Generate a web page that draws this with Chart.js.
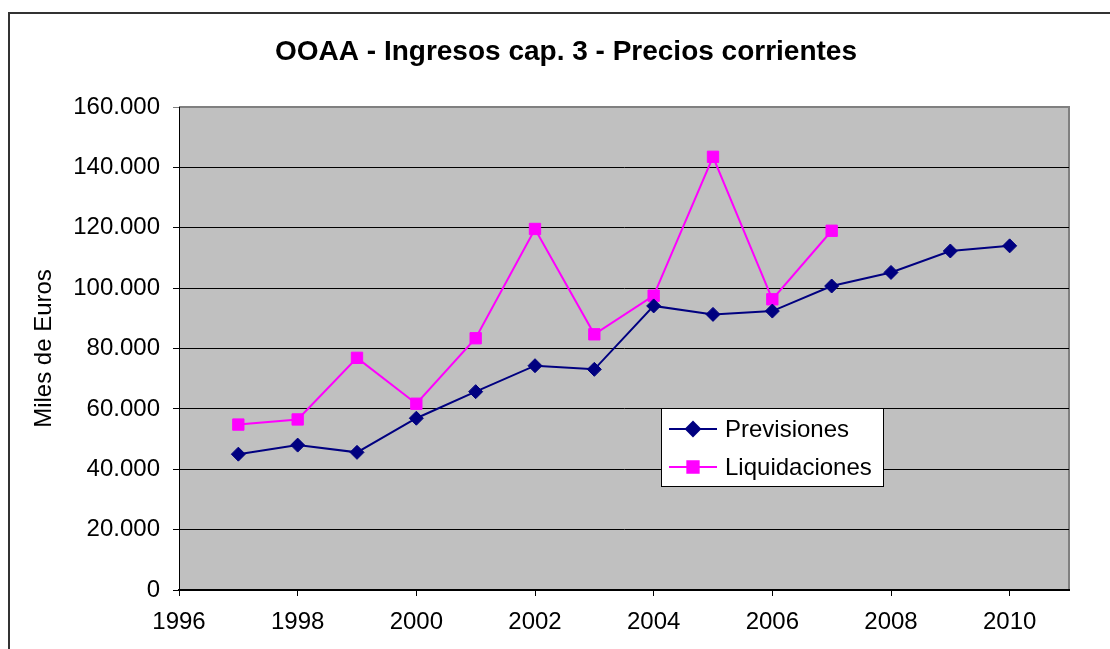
<!DOCTYPE html>
<html>
<head>
<meta charset="utf-8">
<title>OOAA - Ingresos cap. 3 - Precios corrientes</title>
<script src="https://cdn.jsdelivr.net/npm/chart.js@4.4.1/dist/chart.umd.min.js"></script>
<style>
  html, body { margin: 0; padding: 0; background: #fff; }
  canvas { display: block; }
</style>
</head>
<body>
<canvas id="ingresos-chart" width="1110" height="649"></canvas>
<script>
// Data (miles de euros)
const years = [1997, 1998, 1999, 2000, 2001, 2002, 2003, 2004, 2005, 2006, 2007, 2008, 2009, 2010];
const previsiones = [45000, 48000, 45600, 56900, 65700, 74300, 73100, 94100, 91300, 92400, 100700, 105200, 112300, 114000];
const liquidaciones = [54800, 56500, 76900, 61700, 83400, 119600, 84700, 97500, 143500, 96300, 119000];
const seriesNames = ["Previsiones", "Liquidaciones"];
const chartTitle = "OOAA - Ingresos cap. 3 - Precios corrientes";

// Axis ranges / tick steps
const xRange = [1996, 2011];
const xStep = 2;
const yRange = [0, 160000];
const yStep = 20000;

const FONT = "'Liberation Sans', Arial, sans-serif";
const NAVY = "#000080";
const MAGENTA = "#ff00ff";

const toPoints = (values) => values.map((v, i) => ({ x: years[i], y: v }));
const formatThousands = (v) => String(v).replace(/\B(?=(\d{3})+(?!\d))/g, ".");

// Background, outer frame, grey plot area and title
const chartBackground = {
  id: "chartBackground",
  beforeDraw(chart) {
    const { ctx, chartArea: a, width, height } = chart;
    ctx.save();
    ctx.fillStyle = "#fff";
    ctx.fillRect(0, 0, width, height);
    ctx.strokeStyle = "#333";
    ctx.lineWidth = 2;
    ctx.strokeRect(9, 13, width + 20, height + 20);
    ctx.fillStyle = "#c0c0c0";
    ctx.fillRect(a.left, a.top, a.right - a.left, a.bottom - a.top);
    ctx.strokeStyle = "#808080";
    ctx.lineWidth = 2;
    ctx.beginPath();
    ctx.moveTo(a.left, a.top);
    ctx.lineTo(a.right, a.top);
    ctx.lineTo(a.right, a.bottom);
    ctx.stroke();

    ctx.fillStyle = "#000";
    ctx.font = "bold 28px " + FONT;
    ctx.textAlign = "center";
    ctx.textBaseline = "middle";
    ctx.fillText(chartTitle, 566, 52);
    ctx.restore();
  },
};

// Boxed legend sitting inside the plot area
const boxedLegend = {
  id: "boxedLegend",
  afterDraw(chart) {
    const { ctx } = chart;
    const box = { x: 661, y: 408, w: 222, h: 78 };
    ctx.save();
    ctx.fillStyle = "#fff";
    ctx.fillRect(box.x, box.y, box.w, box.h);
    ctx.strokeStyle = "#000";
    ctx.lineWidth = 1;
    ctx.strokeRect(box.x + 0.5, box.y + 0.5, box.w, box.h);

    chart.data.datasets.forEach((ds, i) => {
      const rowY = box.y + 21 + i * 38;
      ctx.strokeStyle = ds.borderColor;
      ctx.lineWidth = ds.borderWidth;
      ctx.beginPath();
      ctx.moveTo(box.x + 8, rowY);
      ctx.lineTo(box.x + 56, rowY);
      ctx.stroke();
      ctx.fillStyle = ds.pointBackgroundColor;
      ctx.strokeStyle = ds.pointBorderColor;
      Chart.helpers.drawPoint(ctx, {
        pointStyle: ds.pointStyle,
        radius: ds.pointRadius,
        rotation: 0,
        borderWidth: 1,
      }, box.x + 32, rowY);
      ctx.fillStyle = "#000";
      ctx.font = "24px " + FONT;
      ctx.textBaseline = "middle";
      ctx.textAlign = "left";
      ctx.fillText(ds.label, box.x + 64, rowY + 1);
    });
    ctx.restore();
  },
};

const data = {
  datasets: [
    {
      label: seriesNames[0],
      data: toPoints(previsiones),
      borderColor: NAVY,
      backgroundColor: NAVY,
      borderWidth: 2,
      pointStyle: "rectRot",
      pointRadius: 7,
      pointBackgroundColor: NAVY,
      pointBorderColor: NAVY,
      pointBorderWidth: 1,
      tension: 0,
    },
    {
      label: seriesNames[1],
      data: toPoints(liquidaciones),
      borderColor: MAGENTA,
      backgroundColor: MAGENTA,
      borderWidth: 2,
      pointStyle: "rect",
      pointRadius: 8,
      pointBackgroundColor: MAGENTA,
      pointBorderColor: MAGENTA,
      pointBorderWidth: 1,
      tension: 0,
    },
  ],
};

const config = {
  type: "line",
  data: data,
  plugins: [chartBackground, boxedLegend],
  options: {
    responsive: false,
    animation: false,
    layout: { padding: { left: 20, right: 41, top: 107, bottom: 0 } },
    plugins: {
      legend: { display: false },
      tooltip: { enabled: false },
      title: { display: false },
    },
    scales: {
      x: {
        type: "linear",
        min: xRange[0],
        max: xRange[1],
        afterFit(scale) { scale.height = 59; },
        ticks: {
          stepSize: xStep,
          includeBounds: false,
          color: "#000",
          padding: 12,
          maxRotation: 0,
          font: { family: FONT, size: 24 },
          callback: (v) => String(v),
        },
        grid: { drawOnChartArea: false, drawTicks: true, tickLength: 6, color: "#000" },
        border: { color: "#000", width: 2 },
      },
      y: {
        min: yRange[0],
        max: yRange[1],
        afterFit(scale) { scale.width = 159; },
        ticks: {
          stepSize: yStep,
          color: "#000",
          padding: 13,
          font: { family: FONT, size: 24 },
          callback: (v) => formatThousands(v),
        },
        grid: {
          color: (c) => (c.tick && c.tick.value === yRange[1] ? "#808080" : "#000"),
          lineWidth: 1,
          tickLength: 6,
        },
        border: { color: "#000", width: 1 },
        title: {
          display: true,
          text: "Miles de Euros",
          color: "#000",
          font: { family: FONT, size: 24 },
          padding: { top: 10, bottom: 0 },
        },
      },
    },
  },
};

const ingresosChart = new Chart(document.getElementById("ingresos-chart"), config);
</script>
</body>
</html>
